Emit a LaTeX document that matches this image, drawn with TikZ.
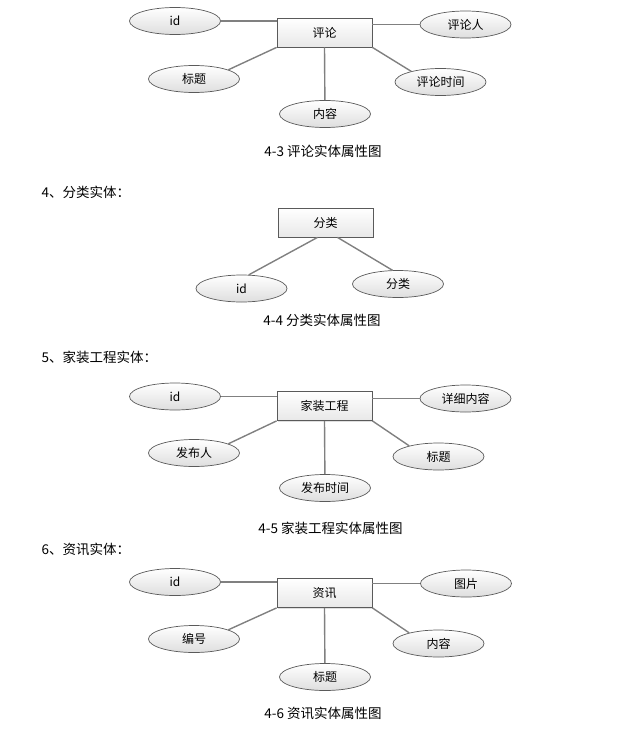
\documentclass[tikz,border=0pt]{standalone}
\usepackage{fontspec}
\setmainfont{Noto Sans CJK SC}
\newfontfamily\songti{Noto Sans CJK SC}
\usepackage{tikz}
\usetikzlibrary{shapes.geometric, shadows, positioning, calc}
\definecolor{erframe}{RGB}{90,90,90}
\definecolor{erline}{RGB}{128,128,128}
\definecolor{erfill}{RGB}{222,222,222}
\definecolor{erbox}{RGB}{232,232,232}
\tikzset{
  entity/.style={rectangle, draw=erframe, top color=white, bottom color=erbox,
    minimum width=95pt, minimum height=29pt, inner sep=0pt,
    font=\fontsize{12pt}{12pt}\selectfont, line width=0.8pt,
    drop shadow={shadow xshift=1.2pt, shadow yshift=-1.2pt, opacity=0.25}},
  attr/.style={ellipse, draw=erframe, top color=white, bottom color=erfill,
    minimum width=91pt, minimum height=27pt, inner sep=0pt,
    font=\fontsize{12pt}{12pt}\selectfont, line width=0.7pt},
  link/.style={erline, line width=1.4pt},
  caption/.style={font=\fontsize{13.5pt}{13.5pt}\selectfont},
  heading/.style={anchor=west, font=\fontsize{13.5pt}{13.5pt}\selectfont}
}

\begin{document}
\begin{tikzpicture}[x=1pt, y=-1pt]
  \useasboundingbox (0,0) rectangle (638,731);
  % 4-3 comment entity
  \node[entity] (cmt) at (324.5,32.5) {评论};
  \node[attr] (cmtid) at (175,21) {id};
  \node[attr] (cmtuser) at (465.5,24.5) {评论人};
  \node[attr] (cmttitle) at (194,79) {标题};
  \node[attr] (cmttime) at (440.5,82) {评论时间};
  \node[attr] (cmtbody) at (325,114) {内容};
  \draw[link] (cmtid) -- (cmtid -| cmt.west);
  \draw[link] (cmtuser -| cmt.east) -- (cmtuser);
  \draw[link] (cmt.south west) -- (cmttitle.15);
  \draw[link] (cmt.south) -- (cmtbody);
  \draw[link] (cmt.south east) -- (cmttime.160);
  \node[caption] (cap43) at (323,151) {4-3 评论实体属性图};

  % 4-4 category entity
  \node[heading] (head4) at (38,192) {4、分类实体：};
  \node[entity] (cat) at (325.5,222.5) {分类};
  \node[attr] (catid) at (241.5,288.5) {id};
  \node[attr] (catname) at (398,284) {分类};
  \draw[link] ($(cat.south)+(-8,0)$) -- (catid.62);
  \draw[link] ($(cat.south)+(12,0)$) -- (catname.112);
  \node[caption] (cap44) at (322,320) {4-4 分类实体属性图};

  % 4-5 decoration project entity
  \node[heading] (head5) at (38,357) {5、家装工程实体：};
  \node[entity] (prj) at (324.5,406) {家装工程};
  \node[attr] (prjid) at (175,396.5) {id};
  \node[attr] (prjdetail) at (465.5,398.5) {详细内容};
  \node[attr] (prjuser) at (194,453) {发布人};
  \node[attr] (prjtitle) at (438.5,456.5) {标题};
  \node[attr] (prjtime) at (325,488) {发布时间};
  \draw[link] (prjid) -- (prjid -| prj.west);
  \draw[link] (prjdetail -| prj.east) -- (prjdetail);
  \draw[link] (prj.south west) -- (prjuser.15);
  \draw[link] (prj.south) -- (prjtime);
  \draw[link] (prj.south east) -- (prjtitle.160);
  \node[caption] (cap45) at (330.5,528) {4-5 家装工程实体属性图};

  % 4-6 news entity
  \node[heading] (head6) at (38,549) {6、资讯实体：};
  \node[entity] (news) at (324.5,593) {资讯};
  \node[attr] (newsid) at (175,582) {id};
  \node[attr] (newspic) at (466,583.5) {图片};
  \node[attr] (newsno) at (194,639) {编号};
  \node[attr] (newsbody) at (438.5,643.5) {内容};
  \node[attr] (newstitle) at (325,677) {标题};
  \draw[link] (newsid) -- (newsid -| news.west);
  \draw[link] (newspic -| news.east) -- (newspic);
  \draw[link] (news.south west) -- (newsno.15);
  \draw[link] (news.south) -- (newstitle);
  \draw[link] (news.south east) -- (newsbody.160);
  \node[caption] (cap46) at (323,713) {4-6 资讯实体属性图};
\end{tikzpicture}
\end{document}
